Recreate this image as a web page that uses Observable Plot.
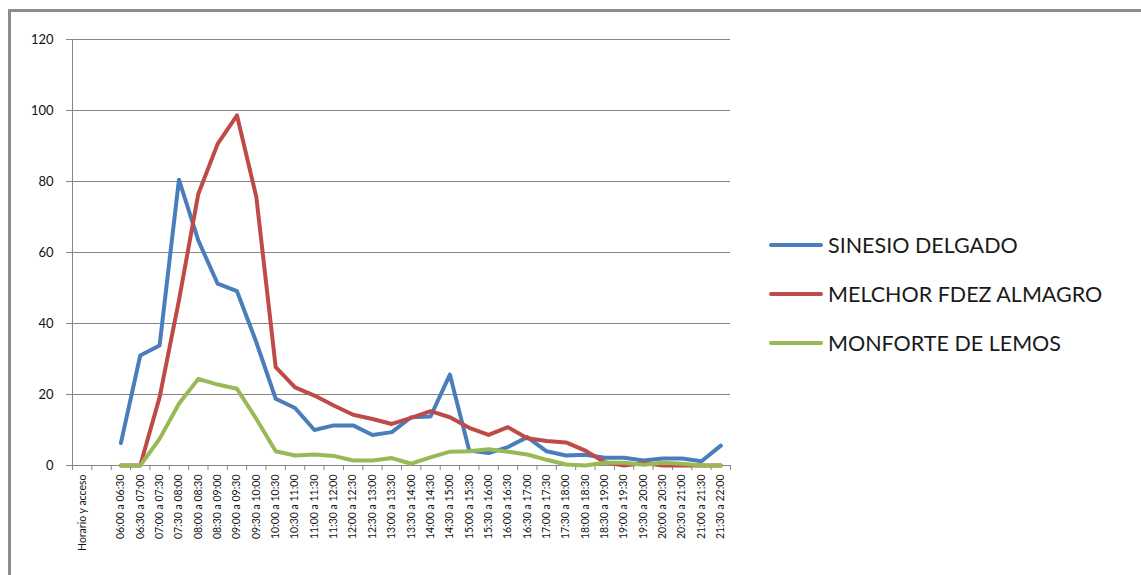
<!DOCTYPE html>
<html>
<head>
<meta charset="utf-8">
<script src="https://cdn.jsdelivr.net/npm/d3@7"></script>
<script src="https://cdn.jsdelivr.net/npm/@observablehq/plot@0.6"></script>
<style>
  html, body { margin: 0; padding: 0; background: #fff; }
  body { position: relative; width: 1141px; height: 575px; overflow: hidden; font-family: Lato, "Open Sans", sans-serif; }
  #frame { position: absolute; left: 8px; top: 9px; width: 1200px; height: 700px; border: 3px solid #8c8c8c; box-sizing: border-box; }
  #chart { position: absolute; left: 0; top: 0; }
  #legend { position: absolute; left: 769px; top: 228px; }
  .row { display: flex; align-items: center; height: 34px; margin-bottom: 15px; }
  .swatch { width: 54px; height: 4px; border-radius: 2px; margin-right: 5px; }
  .label { font-size: 21.5px; color: #1a1a1a; }
</style>
</head>
<body>
<div id="frame"></div>
<div id="chart"></div>
<div id="legend"></div>
<script>
// Time slots (half-hour bands); the first two columns are the header and an empty column
const categories = [
  "Horario y acceso", "",
  "06:00 a 06:30", "06:30 a 07:00", "07:00 a 07:30", "07:30 a 08:00",
  "08:00 a 08:30", "08:30 a 09:00", "09:00 a 09:30", "09:30 a 10:00",
  "10:00 a 10:30", "10:30 a 11:00", "11:00 a 11:30", "11:30 a 12:00",
  "12:00 a 12:30", "12:30 a 13:00", "13:00 a 13:30", "13:30 a 14:00",
  "14:00 a 14:30", "14:30 a 15:00", "15:00 a 15:30", "15:30 a 16:00",
  "16:00 a 16:30", "16:30 a 17:00", "17:00 a 17:30", "17:30 a 18:00",
  "18:00 a 18:30", "18:30 a 19:00", "19:00 a 19:30", "19:30 a 20:00",
  "20:00 a 20:30", "20:30 a 21:00", "21:00 a 21:30", "21:30 a 22:00"
];

const seriesNames = ["SINESIO DELGADO", "MELCHOR FDEZ ALMAGRO", "MONFORTE DE LEMOS"];
const seriesColors = ["#4a7ebb", "#be4b48", "#98b954"];

const sinesioDelgado = [
  null, null,
  6.3, 31, 33.8, 80.5, 63.4, 51.2, 49.1, 34.7,
  18.8, 16.2, 10, 11.3, 11.3, 8.6, 9.4, 13.6,
  13.8, 25.6, 4.2, 3.5, 5.2, 8, 4, 2.8,
  3, 2.2, 2.2, 1.4, 2, 2, 1.2, 5.6
];
const melchorFdezAlmagro = [
  null, null,
  0, 0, 19.2, 46.5, 76.5, 90.6, 98.6, 75.6,
  27.7, 22, 19.7, 16.9, 14.3, 13.1, 11.7, 13.4,
  15.3, 13.6, 10.6, 8.6, 10.8, 7.7, 6.9, 6.5,
  4.2, 0.9, 0, 0.7, 0, 0, 0, 0
];
const monforteDeLemos = [
  null, null,
  0, 0, 7.5, 17.4, 24.4, 22.8, 21.6, 13.1,
  4, 2.8, 3.1, 2.7, 1.4, 1.4, 2.1, 0.5,
  2.3, 3.9, 4, 4.6, 3.9, 3.1, 1.6, 0.3,
  0, 0.8, 0.8, 0.2, 0.8, 0.5, 0, 0
];

const yTicks = [0, 20, 40, 60, 80, 100, 120];

// Long-format table: one row per (series, slot); each slot sits at the centre of its band
const seriesValues = [sinesioDelgado, melchorFdezAlmagro, monforteDeLemos];
const rows = seriesValues.flatMap((values, s) =>
  values.map((v, i) => ({serie: seriesNames[s], slot: i + 0.5, value: v}))
        .filter(d => d.value != null)
);

const n = categories.length;
const gray = "#868686";

const chart = Plot.plot({
  width: 1141,
  height: 575,
  marginLeft: 72,
  marginRight: 411,
  marginTop: 39,
  marginBottom: 110,
  style: {fontFamily: "Lato, 'Open Sans', sans-serif", background: "transparent", overflow: "visible"},
  x: {type: "linear", domain: [0, n], axis: null},
  y: {domain: [0, 120], axis: null},
  color: {domain: seriesNames, range: seriesColors},
  marks: [
    Plot.gridY(yTicks, {stroke: gray, strokeOpacity: 1, strokeWidth: 1}),
    Plot.axisY(yTicks, {label: null, tickSize: 6, tickPadding: 13, fontSize: 13, stroke: gray, strokeOpacity: 1, fill: "#111"}),
    Plot.ruleX([0], {stroke: gray, strokeWidth: 1}),
    Plot.ruleY([0], {stroke: gray, strokeWidth: 1}),
    // band boundary ticks
    Plot.axisX(d3.range(0, n + 1), {label: null, tickSize: 5, tickFormat: () => "", stroke: gray, strokeOpacity: 1}),
    // slot labels, rotated
    Plot.axisX(d3.range(n).map(i => i + 0.5), {
      label: null, tickSize: 0, tickPadding: 9, tickRotate: -90, fontSize: 10.5, fill: "#111",
      tickFormat: d => categories[Math.round(d - 0.5)]
    }),
    Plot.line(rows, {
      x: "slot", y: "value", z: "serie", stroke: "serie",
      strokeWidth: 4, strokeLinejoin: "round", strokeLinecap: "round"
    })
  ]
});
document.getElementById("chart").append(chart);

// Legend
const legend = document.getElementById("legend");
seriesNames.forEach((name, i) => {
  const row = document.createElement("div");
  row.className = "row";
  const sw = document.createElement("span");
  sw.className = "swatch";
  sw.style.background = seriesColors[i];
  const lab = document.createElement("span");
  lab.className = "label";
  lab.textContent = name;
  row.append(sw, lab);
  legend.append(row);
});
</script>
</body>
</html>
